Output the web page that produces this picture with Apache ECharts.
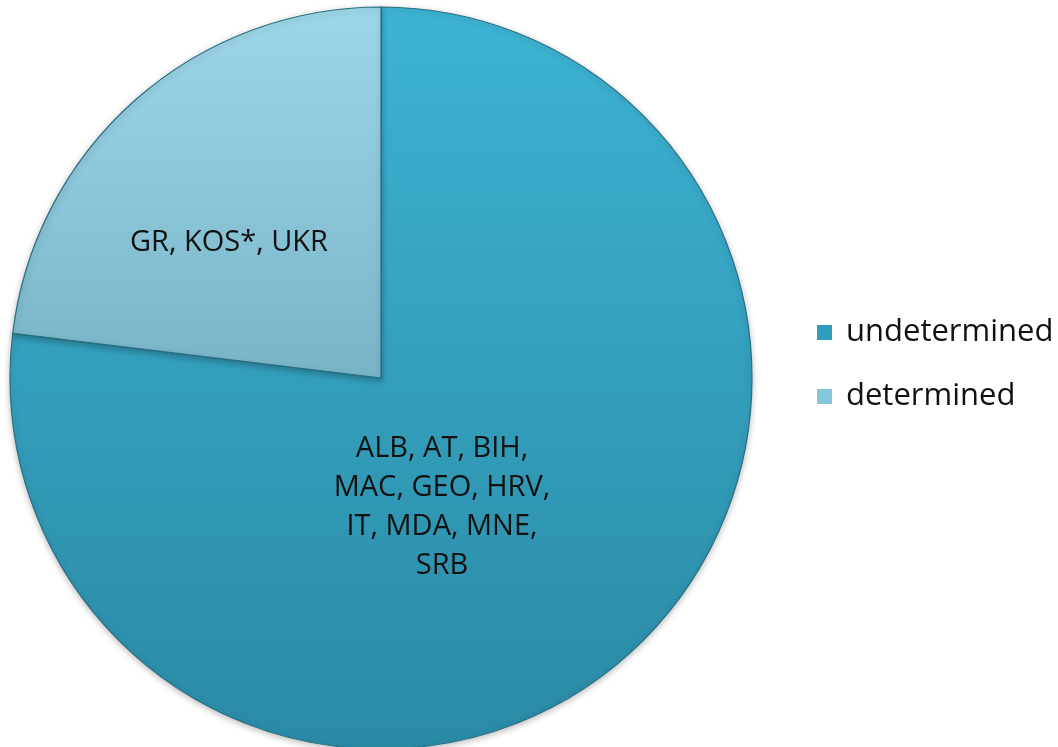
<!DOCTYPE html>
<html><head><meta charset="utf-8">
<script src="https://cdn.jsdelivr.net/npm/echarts@6/dist/echarts.min.js"></script>
<style>html,body{margin:0;padding:0;background:#fff}#c{width:1058px;height:747px}</style>
</head><body><div id="c"></div>
<script>
const categories = ['undetermined', 'determined'];
const values = [10, 3];
const sliceLabels = [
  'ALB, AT, BIH,\nMAC, GEO, HRV,\nIT, MDA, MNE,\nSRB',
  'GR, KOS*, UKR'
];

const fills = [
  new echarts.graphic.LinearGradient(0, 0, 0, 1, [
    {offset: 0, color: '#3db3d3'}, {offset: 1, color: '#2a8aa5'}]),
  new echarts.graphic.LinearGradient(0, 0, 0, 1, [
    {offset: 0, color: '#9dd6e9'}, {offset: 1, color: '#78b4c7'}])
];
const legendColors = ['#2f9dbb', '#86c6da'];
const labelOffsets = [[-64, -12], [-27, 6]];

const chart = echarts.init(document.getElementById('c'));
chart.setOption({
  animation: false,
  backgroundColor: '#ffffff',
  legend: {
    orient: 'vertical',
    left: 812, top: 307,
    itemWidth: 15, itemHeight: 15, itemGap: 23,
    icon: 'rect',
    itemStyle: {borderWidth: 0, shadowBlur: 0},
    textStyle: {fontFamily: 'Open Sans', fontSize: 31, lineHeight: 41, color: '#111', padding: [0, 0, 0, 9]},
    data: categories.map((c, i) => ({name: c, itemStyle: {color: legendColors[i]}}))
  },
  series: [{
    type: 'pie',
    center: [381, 378],
    radius: [0, 371],
    startAngle: 90,
    clockwise: true,
    label: {
      show: true, position: 'inside',
      fontFamily: 'Open Sans', fontSize: 29, lineHeight: 39, color: '#111',
      formatter: p => sliceLabels[p.dataIndex]
    },
    labelLine: {show: false},
    itemStyle: {
      borderColor: '#2a6f83', borderWidth: 1.2,
      shadowColor: 'rgba(0,0,0,0.25)', shadowBlur: 6, shadowOffsetY: 2
    },
    data: categories.map((c, i) => ({
      name: c, value: values[i],
      itemStyle: {color: fills[i]},
      label: {offset: labelOffsets[i]}
    }))
  }]
});
</script></body></html>
